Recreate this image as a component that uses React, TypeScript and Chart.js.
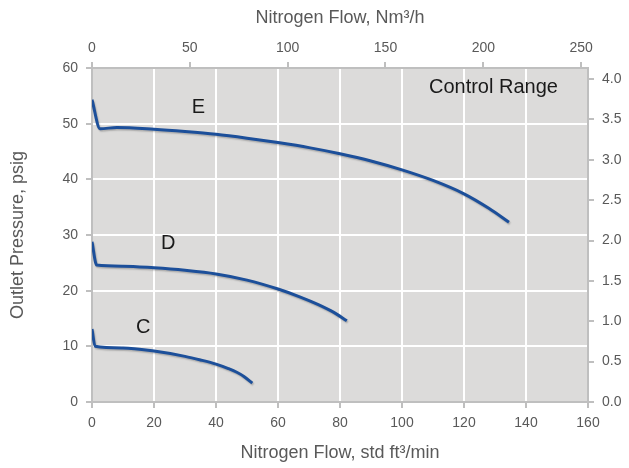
import React, { useEffect, useRef } from "react";
import { Chart, registerables } from "chart.js";

Chart.register(...registerables);

// ---- data ----
const flowE = [0, 2.6, 8, 20, 30, 40, 50, 60, 70, 80, 90, 100, 110, 120, 128, 134.5];
const pressE = [54.3, 49.1, 49.3, 49.0, 48.6, 48.1, 47.4, 46.6, 45.7, 44.6, 43.3, 41.7, 39.8, 37.4, 34.8, 32.3];

const flowD = [0, 1.5, 10, 20, 30, 40, 50, 60, 67, 73, 78, 82.2];
const pressD = [28.8, 24.6, 24.4, 24.1, 23.65, 23.0, 21.9, 20.3, 18.9, 17.5, 16.1, 14.6];

const flowC = [0, 1, 10, 20, 30, 35, 40, 44, 46.7, 49, 51.7];
const pressC = [13.1, 10.0, 9.7, 9.15, 8.2, 7.55, 6.8, 6.0, 5.35, 4.6, 3.4];

const seriesNames = ["E", "D", "C"];

// axis ranges / ticks
const xMax = 160; // std ft3/min
const xStep = 20;
const x2Max = 253.5; // Nm3/h equivalent of 160 scfm (as drawn)
const x2Step = 50;
const yMax = 60; // psig
const yStep = 10;
const y2Max = 60 / 14.5038; // bar equivalent of 60 psig
const y2Step = 0.5;

// text annotations (in data units)
const noteTexts = ["E", "D", "C", "Control Range"];
const noteX = [34.3, 24.6, 16.5, 129.5];
const noteY = [52.9, 28.5, 13.3, 56.5];

const FONT = '"Liberation Sans", Arial, Helvetica, sans-serif';
const TEXT_GREY = "#595959";
const AXIS_GREY = "#bfbfbf";
const LINE_BLUE = "#1c4f9a";

const toPoints = (xs: number[], ys: number[]) => xs.map((x, i) => ({ x, y: ys[i] }));

const bgPlugin = {
  id: "plotBg",
  beforeDraw(chart: any) {
    const { ctx, chartArea } = chart;
    if (!chartArea) return;
    ctx.save();
    ctx.fillStyle = "#dcdbda";
    ctx.fillRect(chartArea.left, chartArea.top, chartArea.right - chartArea.left, chartArea.bottom - chartArea.top);
    ctx.restore();
  },
};

const shadowPlugin = {
  id: "lineShadow",
  beforeDatasetDraw(chart: any) {
    const ctx = chart.ctx;
    ctx.save();
    ctx.shadowColor = "rgba(0,0,0,0.22)";
    ctx.shadowOffsetX = 1;
    ctx.shadowOffsetY = 1.5;
    ctx.shadowBlur = 1.5;
  },
  afterDatasetDraw(chart: any) {
    chart.ctx.restore();
  },
};

const notePlugin = {
  id: "notes",
  afterDatasetsDraw(chart: any) {
    const { ctx } = chart;
    const xs = chart.scales.x;
    const ys = chart.scales.y;
    ctx.save();
    ctx.font = `20px ${FONT}`;
    ctx.fillStyle = "#1a1a1a";
    ctx.textAlign = "center";
    ctx.textBaseline = "middle";
    noteTexts.forEach((t, i) => {
      ctx.fillText(t, xs.getPixelForValue(noteX[i]), ys.getPixelForValue(noteY[i]));
    });
    ctx.restore();
  },
};

export default function App() {
  const ref = useRef<HTMLCanvasElement | null>(null);

  useEffect(() => {
    if (!ref.current) return;
    Chart.defaults.font.family = FONT;
    const lineDs = (label: string, xs: number[], ys: number[]) => ({
      label,
      data: toPoints(xs, ys),
      borderColor: LINE_BLUE,
      backgroundColor: LINE_BLUE,
      borderWidth: 3,
      pointRadius: 0,
      fill: false,
      cubicInterpolationMode: "monotone" as const,
      xAxisID: "x",
      yAxisID: "y",
    });
    const edgeTransparent = (maxV: number) => (c: any) =>
      c.tick && (c.tick.value === 0 || Math.abs(c.tick.value - maxV) < 1e-9) ? "rgba(0,0,0,0)" : "#ffffff";

    const chart = new Chart(ref.current, {
      type: "line",
      data: {
        datasets: [
          lineDs(seriesNames[0], flowE, pressE),
          lineDs(seriesNames[1], flowD, pressD),
          lineDs(seriesNames[2], flowC, pressC),
        ],
      },
      options: {
        animation: false,
        responsive: false,
        devicePixelRatio: 1,
        layout: { padding: 0 },
        plugins: { legend: { display: false }, tooltip: { enabled: false }, title: { display: false } },
        scales: {
          x: {
            type: "linear",
            axis: "x",
            position: "bottom",
            min: 0,
            max: xMax,
            ticks: { stepSize: xStep, color: TEXT_GREY, font: { size: 14 }, padding: 7, maxRotation: 0 },
            grid: {
              color: edgeTransparent(xMax),
              lineWidth: 2,
              tickColor: AXIS_GREY,
              tickWidth: 2,
              tickLength: 6,
            },
            border: { color: AXIS_GREY, width: 2 },
            title: {
              display: true,
              text: "Nitrogen Flow, std ft³/min",
              color: TEXT_GREY,
              font: { size: 18 },
              padding: { top: 4, bottom: 4 },
            },
            afterFit: (s: any) => {
              s.height = 66;
            },
          },
          x2: {
            type: "linear",
            axis: "x",
            position: "top",
            min: 0,
            max: x2Max,
            ticks: { stepSize: x2Step, color: TEXT_GREY, font: { size: 14 }, padding: 5, includeBounds: false, maxRotation: 0 },
            grid: {
              drawOnChartArea: false,
              color: AXIS_GREY,
              lineWidth: 2,
              tickColor: AXIS_GREY,
              tickLength: 6,
            },
            border: { color: AXIS_GREY, width: 2 },
            title: {
              display: true,
              text: "Nitrogen Flow, Nm³/h",
              color: TEXT_GREY,
              font: { size: 18 },
              padding: { top: 7, bottom: 4 },
            },
            afterFit: (s: any) => {
              s.height = 68;
            },
          },
          y: {
            type: "linear",
            axis: "y",
            position: "left",
            min: 0,
            max: yMax,
            ticks: { stepSize: yStep, color: TEXT_GREY, font: { size: 14 }, padding: 8 },
            grid: {
              color: edgeTransparent(yMax),
              lineWidth: 2,
              tickColor: AXIS_GREY,
              tickWidth: 2,
              tickLength: 6,
            },
            border: { color: AXIS_GREY, width: 2 },
            title: {
              display: true,
              text: "Outlet Pressure, psig",
              color: TEXT_GREY,
              font: { size: 18 },
              padding: { top: 7, bottom: 4 },
            },
            afterFit: (s: any) => {
              s.width = 92;
            },
          },
          y2: {
            type: "linear",
            axis: "y",
            position: "right",
            min: 0,
            max: y2Max,
            ticks: {
              stepSize: y2Step,
              includeBounds: false,
              color: TEXT_GREY,
              font: { size: 14 },
              padding: 8,
              callback: (v: any) => Number(v).toFixed(1),
            },
            grid: {
              drawOnChartArea: false,
              color: AXIS_GREY,
              lineWidth: 2,
              tickColor: AXIS_GREY,
              tickLength: 6,
            },
            border: { color: AXIS_GREY, width: 2 },
            afterFit: (s: any) => {
              s.width = 41;
            },
          },
        },
      } as any,
      plugins: [bgPlugin, shadowPlugin, notePlugin],
    });
    return () => chart.destroy();
  }, []);

  return (
    <div style={{ position: "absolute", left: 0, top: 0, width: 629, height: 468, background: "#fff" }}>
      <canvas ref={ref} width={629} height={468} style={{ display: "block", width: 629, height: 468 }} />
    </div>
  );
}
